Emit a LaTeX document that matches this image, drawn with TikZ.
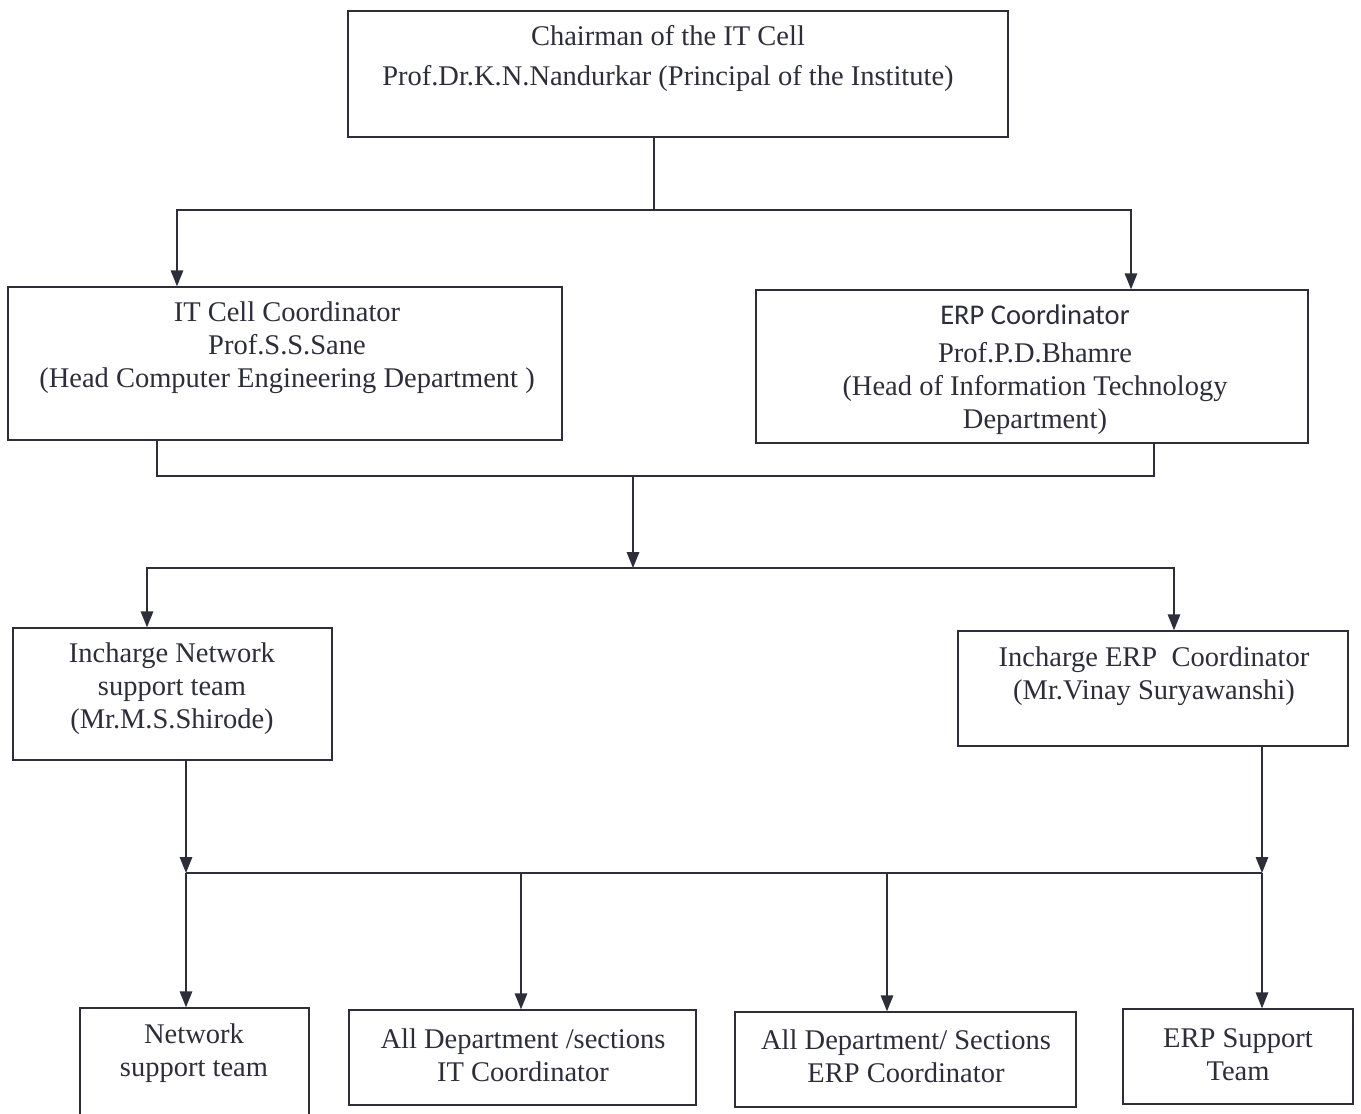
\documentclass[tikz,border=0pt]{standalone}
\usepackage{fontspec}
\setmainfont{Liberation Serif}
\newfontfamily\calib{Carlito}
\usetikzlibrary{arrows.meta}
\definecolor{ink}{HTML}{2E2E3A}
\begin{document}
\begin{tikzpicture}[x=1pt,y=-1pt,
  box/.style={draw=ink,line width=1.4pt,inner sep=0pt},
  txt/.style={align=center,inner sep=0pt,text=ink,font=\fontsize{28.5}{33}\selectfont},
  ln/.style={draw=ink,line width=1.5pt},
  arr/.style={draw=ink,line width=1.5pt,-{Triangle[length=16pt,width=12.5pt]}}]
\useasboundingbox (0,0) rectangle (1361,1114);
\clip (0,0) rectangle (1361,1114);
\fill[white] (0,0) rectangle (1361,1114);
% boxes
\node[box,minimum width=660pt,minimum height=126pt] (chair) at (678,74) {};
\node[box,minimum width=554pt,minimum height=153pt] (itc) at (285,363.5) {};
\node[box,minimum width=552pt,minimum height=153pt] (erp) at (1032,366.5) {};
\node[box,minimum width=319pt,minimum height=132pt] (inN) at (172.5,694) {};
\node[box,minimum width=390pt,minimum height=115pt] (inE) at (1153,688.5) {};
\node[box,minimum width=229pt,minimum height=132pt] (nst) at (194.5,1074) {};
\node[box,minimum width=347pt,minimum height=95pt] (adit) at (522.5,1057.5) {};
\node[box,minimum width=341pt,minimum height=95pt] (aderp) at (905.5,1059.5) {};
\node[box,minimum width=230pt,minimum height=95pt] (erps) at (1238,1056.5) {};
% texts
\node[txt] (chairT) at (668,58) {Chairman of the IT Cell\\[7pt]Prof.Dr.K.N.Nandurkar (Principal of the Institute)};
\node[txt] (itcT) at (287,348) {IT Cell Coordinator\\Prof.S.S.Sane\\(Head Computer Engineering Department )};
\node[txt] (erpT) at (1035,370) {{\calib ERP Coordinator}\\[5pt]Prof.P.D.Bhamre\\(Head of Information Technology\\Department)};
\node[txt] (inNT) at (172,689) {Incharge Network\\support team\\(Mr.M.S.Shirode)};
\node[txt] (inET) at (1154,676) {Incharge ERP\ \ Coordinator\\(Mr.Vinay Suryawanshi)};
\node[txt] (nstT) at (194,1053.5) {Network\\support team};
\node[txt] (aditT) at (523,1055) {All Department /sections\\IT Coordinator};
\node[txt] (aderpT) at (906,1056) {All Department/ Sections\\ERP Coordinator};
\node[txt] (erpsT) at (1238,1055) {ERP Support\\Team};
% level 1 connectors
\coordinate (j1) at (654,210);
\coordinate (a1) at (177,210);
\coordinate (a2) at (1131,210);
\draw[ln] (chair.south -| j1) -- (j1);
\draw[arr] (j1) -- (a1) -- (a1 |- itc.north);
\draw[arr] (j1) -- (a2) -- (a2 |- erp.north);
% level 2 connectors
\coordinate (b1) at (157,476);
\coordinate (b2) at (1154,476);
\coordinate (b0) at (633,476);
\coordinate (c0) at (633,568);
\draw[ln] (b1 |- itc.south) -- (b1) -- (b2) -- (b2 |- erp.south);
\draw[arr] (b0) -- (c0);
\coordinate (c1) at (147,568);
\coordinate (c2) at (1174,568);
\draw[arr] (c0) -- (c1) -- (c1 |- inN.north);
\draw[arr] (c0) -- (c2) -- (c2 |- inE.north);
% level 3 connectors
\coordinate (d1) at (186,873);
\coordinate (d2) at (1262,873);
\coordinate (e2) at (521,873);
\coordinate (e3) at (887,873);
\draw[arr] (d1 |- inN.south) -- (d1);
\draw[arr] (d2 |- inE.south) -- (d2);
\draw[ln] (d1) -- (d2);
\draw[arr] (d1) -- (d1 |- nst.north);
\draw[arr] (e2) -- (e2 |- adit.north);
\draw[arr] (e3) -- (e3 |- aderp.north);
\draw[arr] (d2) -- (d2 |- erps.north);
\end{tikzpicture}
\end{document}
